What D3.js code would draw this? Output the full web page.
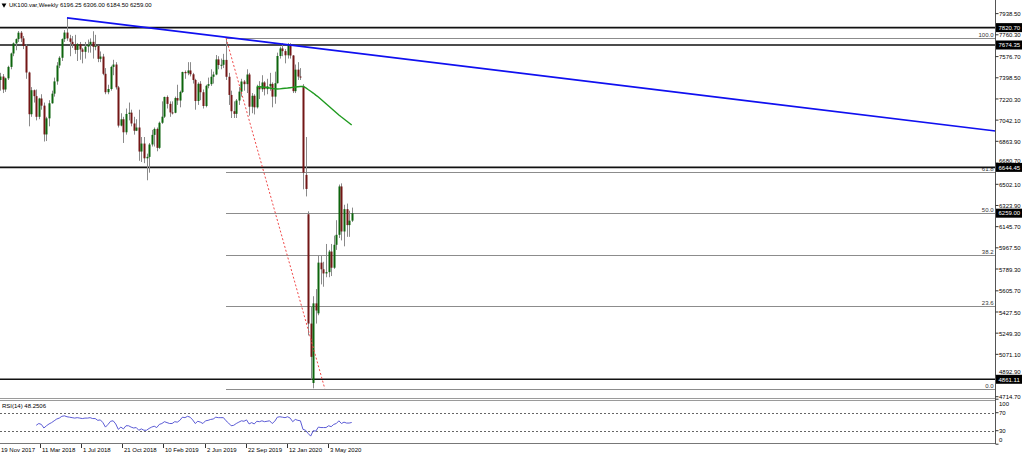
<!DOCTYPE html>
<html><head><meta charset="utf-8">
<script src="https://cdn.jsdelivr.net/npm/d3@7"></script>
<style>html,body{margin:0;padding:0;background:#fff;overflow:hidden}svg{display:block;font-family:"Liberation Sans",Arial,sans-serif}</style>
</head><body><svg id="c" width="1024" height="454"></svg>
<script>
// ---- DATA (weekly bars, first bar = week of 19 Nov 2017) ----
const opens = [7380,7409,7300,7394,7490,7603,7688,7724,7778,7730,7666,7443,7092,7294,7244,7070,7224,7164,6922,7057,7184,7265,7368,7502,7567,7724,7779,7730,7701,7681,7633,7682,7637,7617,7661,7678,7701,7659,7667,7558,7577,7432,7277,7304,7490,7510,7318,6996,7049,6940,7094,7105,7014,6953,6980,6778,6845,6721,6733,6837,6918,6968,6809,7020,7071,7237,7179,7107,7104,7228,7207,7279,7447,7437,7460,7428,7380,7203,7348,7277,7161,7331,7345,7407,7426,7553,7506,7508,7549,7407,7254,7117,7095,7207,7282,7367,7345,7426,7155,7247,7150,7324,7302,7359,7303,7326,7347,7240,7353,7582,7645,7623,7588,7675,7586,7286,7467,7409,7330,6581,6250,5330,4830,5500,5416,5843,5787,5752,5763,5936,5800,5993,6077,6484,6105,6293,6159,6196.25];
const highs = [7440,7430,7400,7500,7610,7696,7730,7792,7792,7750,7680,7450,7320,7300,7300,7230,7260,7190,7070,7210,7290,7400,7530,7580,7730,7800,7903,7760,7750,7760,7690,7700,7650,7700,7720,7730,7790,7760,7670,7620,7600,7480,7340,7500,7550,7530,7330,7100,7070,7140,7190,7130,7070,7050,7130,6900,6900,6760,6850,6960,6980,6980,7030,7200,7240,7250,7200,7200,7240,7340,7290,7450,7460,7530,7530,7440,7390,7360,7370,7300,7340,7400,7470,7450,7590,7580,7560,7600,7733,7440,7290,7200,7220,7320,7390,7380,7470,7440,7270,7260,7340,7370,7420,7370,7390,7440,7360,7450,7610,7660,7690,7640,7690,7690,7590,7510,7530,7480,7345,6900,6275,5470,5560,5620,5900,5900,5850,6000,5950,6000,6070,6200,6500,6510,6330,6340,6280,6306];
const lows = [7290,7270,7280,7380,7470,7580,7630,7700,7700,7640,7390,6990,7070,7190,7040,7050,7130,6862,6866,6990,7180,7240,7340,7480,7540,7700,7710,7580,7650,7600,7540,7550,7520,7560,7610,7610,7560,7630,7530,7530,7420,7260,7260,7290,7420,7300,6980,6990,6850,6920,7040,6990,6920,6950,6700,6690,6680,6536,6600,6820,6820,6780,6800,7010,7060,7140,7070,7090,7100,7170,7150,7270,7390,7420,7410,7350,7130,7170,7210,7140,7150,7310,7330,7350,7420,7470,7470,7480,7380,7170,7060,7060,7060,7170,7240,7290,7270,7080,7100,7090,7140,7220,7280,7250,7260,7290,7150,7180,7350,7560,7580,7520,7560,7560,7270,7270,7380,7380,6460,6400,5230,4860,4785,5330,5400,5660,5640,5720,5720,5730,5790,5950,6050,6030,5980,6060,6060,6184.5];
const closes = [7409,7300,7394,7490,7603,7688,7724,7778,7730,7666,7443,7092,7294,7244,7070,7224,7164,6922,7057,7184,7265,7368,7502,7567,7724,7779,7730,7701,7681,7633,7682,7637,7617,7661,7678,7701,7659,7667,7558,7577,7432,7277,7304,7490,7510,7318,6996,7049,6940,7094,7105,7014,6953,6980,6778,6845,6721,6733,6837,6918,6968,6809,7020,7071,7237,7179,7107,7104,7228,7207,7279,7447,7437,7460,7428,7380,7203,7348,7277,7161,7331,7345,7407,7426,7553,7506,7508,7549,7407,7254,7117,7095,7207,7282,7367,7345,7426,7155,7247,7150,7324,7302,7359,7303,7326,7347,7240,7353,7582,7645,7623,7588,7675,7586,7286,7467,7409,7404,6600,6463,5330,5050,5500,5440,5843,5787,5752,5763,5936,5800,5993,6077,6484,6105,6293,6159,6196,6259];

// moving average (green), values from bar 100 on
const maStart = 100;
const maValues = [7325,7323,7321,7319,7317,7313,7308,7306,7304,7305,7308,7310,7312,7315,7318,7321,7323,7325,7325,7316,7300,7285,7270,7253,7237,7218,7199,7180,7161,7142,7123,7104,7085,7068,7052,7035,7018,7001];

// RSI(14), values from bar 14 on
const rsiStart = 14;
const rsiValues = [42,46,44,36,41,45,48,52,56,58,62,63,61,60,59,58,59,58,57,58,58,59,57,57,53,54,48,38,44,51,52,45,33,38,34,41,41,38,36,37,31,34,31,31,35,38,40,37,44,46,50,48,46,46,50,49,53,60,59,62,60,54,46,51,49,46,52,53,55,56,60,59,59,59,52,47,41,42,46,49,52,51,54,45,48,45,51,50,52,50,51,52,46,51,60,61,60,59,61,58,50,55,53,52,33,31,24,18,30,29,38,37,37,37,41,39,44,46,52,46,49,47,47,48.25];

// price axis tick labels
const priceTicks = ["7938.50","7760.30","7576.70","7398.50","7220.30","7042.10","6863.90","6680.70","6502.10","6323.90","6145.70","5967.50","5789.30","5605.70","5427.50","5249.30","5071.10","4892.90","4714.70"];
// horizontal lines (black) with boxed labels
const hLines = [7820.70, 7674.35, 6644.45, 4861.11];
const lastPrice = 6259.00;
// trend line anchors (bar index, price)
const trendBars = [26, 112];
const trendPrices = [7902, 7676];
// fibonacci retracement anchors
const fibBars = [88, 126.5];
const fibPrices = [7733, 4783];
const fibLevels = [0, 23.6, 38.2, 50.0, 61.8, 100.0];
// time axis labels every 16 bars
const timeLabels = ["19 Nov 2017","11 Mar 2018","1 Jul 2018","21 Oct 2018","10 Feb 2019","2 Jun 2019","22 Sep 2019","12 Jan 2020","3 May 2020"];
const timeLabelStep = 16;
const rsiLevels = [100,70,30,0];
const title = "UK100.var,Weekly  6196.25 6306.00 6184.50 6259.00";
const rsiTitle = "RSI(14) 48.2506";

// ---- LAYOUT ----
const axisX = 995.5;
const mainTop = 0, mainBottom = 398;
const rsiTop = 399.2, rsiBottom = 444.2;

const svg = d3.select("#c");
const x = d3.scaleLinear().domain([0, 1]).range([0.3, 0.3 + 2.565]);
const y = d3.scaleLinear().domain([4703.7, 8053.1]).range([mainBottom, mainTop]);
const yr = d3.scaleLinear().domain([0, 100]).range([rsiBottom, rsiTop]);
const fs = 6;

const main = svg.append("g");
svg.append("clipPath").attr("id","mc").append("rect").attr("x",0).attr("y",0).attr("width",axisX).attr("height",mainBottom);
const plot = main.append("g").attr("clip-path","url(#mc)");

// fib lines
const fLo = fibPrices[1], fHi = fibPrices[0];
const fibX0 = x(Math.min(fibBars[0], fibBars[1]));
fibLevels.forEach(l => {
  const p = fLo + (fHi - fLo) * l / 100;
  const yy = Math.round(y(p)) + 0.5;
  plot.append("line").attr("x1", fibX0).attr("x2", axisX).attr("y1", yy).attr("y2", yy)
    .attr("stroke", "#8c8c8c").attr("stroke-width", 1);
  plot.append("text").attr("x", axisX - 2).attr("y", yy - 1.5).attr("text-anchor","end")
    .attr("font-size", fs).attr("fill", "#333").text(l.toFixed(1));
});

// horizontal black lines
hLines.forEach(p => {
  plot.append("line").attr("x1", 0).attr("x2", axisX).attr("y1", y(p)).attr("y2", y(p))
    .attr("stroke", "#111").attr("stroke-width", 1.6);
});

// candles
const n = closes.length;
const idx = d3.range(n);
plot.append("g").selectAll("line").data(idx).join("line")
  .attr("x1", i => Math.round(x(i)) + 0.5).attr("x2", i => Math.round(x(i)) + 0.5)
  .attr("y1", i => y(highs[i])).attr("y2", i => y(lows[i]))
  .attr("stroke", "#8a8a8a").attr("stroke-width", 1);
plot.append("g").selectAll("rect").data(idx).join("rect")
  .attr("x", i => Math.round(x(i)) - 0.5).attr("width", 2)
  .attr("y", i => Math.min(y(opens[i]), y(closes[i])))
  .attr("height", i => Math.max(1, Math.abs(y(opens[i]) - y(closes[i]))))
  .attr("fill", i => closes[i] >= opens[i] ? "#0d650d" : "#731616");

// moving average
plot.append("path").datum(maValues)
  .attr("d", d3.line().x((v, k) => x(maStart + k)).y(v => y(v)))
  .attr("fill", "none").attr("stroke", "#1f9a1f").attr("stroke-width", 1.4);

// trend line (extended to the right edge)
const slope = (trendPrices[1] - trendPrices[0]) / (trendBars[1] - trendBars[0]);
const endBar = x.invert(axisX);
plot.append("line")
  .attr("x1", x(trendBars[0])).attr("y1", y(trendPrices[0]))
  .attr("x2", x(endBar)).attr("y2", y(trendPrices[0] + slope * (endBar - trendBars[0])))
  .attr("stroke", "#1010f0").attr("stroke-width", 1.7);

// fib base line (red dotted)
plot.append("line")
  .attr("x1", x(fibBars[0])).attr("y1", y(fibPrices[0]))
  .attr("x2", x(fibBars[1])).attr("y2", y(fibPrices[1]))
  .attr("stroke", "#f04a4a").attr("stroke-width", 1).attr("stroke-dasharray", "2,2");

// window borders
svg.append("line").attr("x1",0).attr("x2",axisX).attr("y1",mainBottom+0.5).attr("y2",mainBottom+0.5).attr("stroke","#9a9a9a");
svg.append("line").attr("x1",0).attr("x2",axisX).attr("y1",400.5).attr("y2",400.5).attr("stroke","#9a9a9a");
svg.append("line").attr("x1",0).attr("x2",axisX).attr("y1",443.5).attr("y2",443.5).attr("stroke","#777");
svg.append("line").attr("x1",axisX).attr("x2",axisX).attr("y1",0).attr("y2",444).attr("stroke","#555");

// title
svg.append("path").attr("d", d3.symbol().type(d3.symbolTriangle).size(10)()).attr("transform","translate(4,5) rotate(180)").attr("fill","#000");
svg.append("text").attr("x", 9).attr("y", 7).attr("font-size", fs).attr("fill","#000").text(title);

// price axis
const boxPrices = [...hLines, lastPrice];
const boxH = 9;
priceTicks.forEach(t => {
  const yy = y(+t);
  svg.append("line").attr("x1", axisX).attr("x2", axisX + 3).attr("y1", yy).attr("y2", yy).attr("stroke","#333");
  let base = yy + 2.6;
  // a label hidden behind a price box is pushed just above that box
  boxPrices.forEach(p => {
    const top = y(p) - boxH / 2;
    if (base > top && base - 5 < top + boxH) base = Math.min(base, top - 0.3);
  });
  svg.append("text").attr("x", 999).attr("y", base).attr("font-size", fs).attr("fill","#000").text(t);
});
boxPrices.forEach(p => {
  const yy = y(p);
  svg.append("rect").attr("x", 996).attr("y", yy - boxH / 2).attr("width", 26).attr("height", boxH).attr("fill","#000");
  svg.append("text").attr("x", 998.5).attr("y", yy + 2.3).attr("font-size", fs).attr("fill","#fff").text(p.toFixed(2));
});

// RSI window
rsiLevels.filter(l => l > 0 && l < 100).forEach(l => {
  svg.append("line").attr("x1",0).attr("x2",axisX).attr("y1",Math.round(yr(l))+0.5).attr("y2",Math.round(yr(l))+0.5)
    .attr("stroke","#666").attr("stroke-dasharray","2,2");
});
rsiLevels.forEach(l => {
  const yy = Math.max(403.5, Math.min(439.5, yr(l)));
  svg.append("line").attr("x1", axisX).attr("x2", axisX + 3).attr("y1", yr(l)).attr("y2", yr(l)).attr("stroke","#333");
  svg.append("text").attr("x", 999).attr("y", yy + 2.2).attr("font-size", fs).attr("fill","#000").text(l);
});
svg.append("path").datum(rsiValues)
  .attr("d", d3.line().x((v, k) => x(rsiStart + k)).y(v => yr(v)))
  .attr("fill","none").attr("stroke","#4a4ad0").attr("stroke-width",0.9);
svg.append("text").attr("x", 2).attr("y", 408).attr("font-size", fs).attr("fill","#000").text(rsiTitle);

// time axis
timeLabels.forEach((t, k) => {
  const xx = Math.round(x(k * timeLabelStep)) - 0.5;
  svg.append("line").attr("x1", xx).attr("x2", xx).attr("y1", 444).attr("y2", 448).attr("stroke","#333");
  svg.append("text").attr("x", xx + 1.5).attr("y", 452).attr("font-size", fs).attr("fill","#000").text(t);
});
</script></body></html>
